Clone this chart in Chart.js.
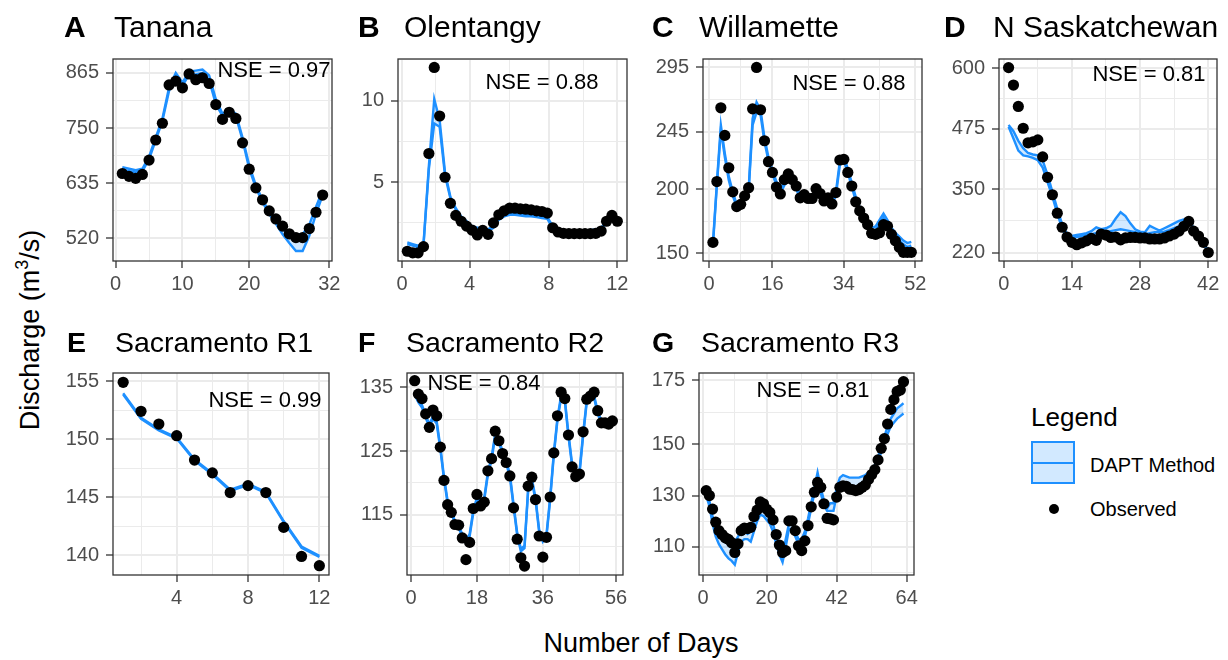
<!DOCTYPE html>
<html>
<head>
<meta charset="utf-8">
<script src="https://cdn.jsdelivr.net/npm/chart.js@4.4.1/dist/chart.umd.min.js"></script>
<style>
html, body { margin: 0; padding: 0; background: #fff; }
body { width: 1228px; height: 660px; position: relative; overflow: hidden;
       font-family: "Liberation Sans", Arial, Helvetica, sans-serif; color: #000; }
.panel { position: absolute; }
.tag { position: absolute; font-weight: bold; line-height: 1; white-space: nowrap; }
.name { position: absolute; line-height: 1; white-space: nowrap; }
.nse { position: absolute; font-size: 22px; line-height: 1; white-space: nowrap; transform: translate(-50%, -50%); }
.axt { position: absolute; font-size: 27px; line-height: 1; white-space: nowrap; transform: translate(-50%, -50%); }
.axt.rot { transform: translate(-50%, -50%) rotate(-90deg); }
.axt sup { font-size: 18px; vertical-align: 11px; line-height: 0; }
.lg { position: absolute; line-height: 1; white-space: nowrap; }
</style>
</head>
<body>
<div id="root"></div>
<script>
// ---- data ----

// A Tanana, daily
const tananaObs = [655, 649, 645, 653, 683, 725, 760, 840, 848, 834, 863, 851, 855, 843, 799, 768, 783, 770, 719, 664, 625, 600, 577, 560, 545, 529, 521, 521, 540, 574, 610];
const tananaHi  = [668, 665, 662, 665, 690, 730, 770, 835, 865, 845, 868, 870, 872, 860, 810, 780, 790, 780, 730, 672, 630, 600, 575, 555, 538, 530, 528, 528, 548, 585, 620];
const tananaLo  = [662, 660, 657, 660, 685, 725, 765, 828, 860, 838, 862, 862, 865, 850, 800, 775, 785, 775, 725, 665, 625, 595, 570, 550, 528, 510, 493, 493, 525, 570, 610];

// B Olentangy, 0.3 day steps
const olentangyObs = [0.76, 0.66, 0.66, 1.04, 6.76, 12.04, 9.06, 5.30, 3.70, 2.96, 2.60, 2.30, 2.06, 1.76, 2.04, 1.80, 2.50, 3.00, 3.24, 3.40, 3.40, 3.36, 3.34, 3.30, 3.24, 3.20, 3.10, 2.20, 1.94, 1.86, 1.84, 1.84, 1.84, 1.84, 1.84, 1.86, 2.00, 2.60, 2.96, 2.60];
const olentangyHi  = [1.3, 1.2, 1.1, 1.2, 6.0, 10.1, 8.8, 5.6, 4.1, 3.4, 2.9, 2.6, 2.3, 2.2, 2.1, 2.1, 2.3, 2.8, 3.0, 3.1, 3.1, 3.05, 3.0, 3.0, 2.95, 2.9, 2.85, 2.3, 2.1, 2.05, 2.05, 2.05, 2.05, 2.05, 2.05, 2.1, 2.2, 2.6, 2.95, 2.8];
const olentangyLo  = [1.2, 1.1, 1.0, 1.1, 5.8, 8.6, 8.4, 5.4, 4.0, 3.3, 2.8, 2.5, 2.2, 2.1, 2.0, 2.0, 2.2, 2.7, 2.9, 3.0, 3.0, 2.95, 2.9, 2.9, 2.85, 2.8, 2.75, 2.2, 2.0, 1.95, 1.95, 1.95, 1.95, 1.95, 1.95, 2.0, 2.1, 2.5, 2.85, 2.7];

// C Willamette
const willametteObs = [158.5, 206, 263.5, 242, 216.7, 197.9, 186.4, 188.2, 194.8, 201.2, 262.7, 295, 262, 237.8, 221.5, 213.1, 201.7, 196.3, 207.5, 211.9, 207.5, 202.5, 193.3, 195.8, 192.8, 192.8, 200.4, 196.6, 190.8, 193.3, 188.5, 197.4, 222.8, 223.3, 213.1, 202.5, 190.2, 183.1, 177.5, 172.4, 165.6, 164.8, 166.1, 172.4, 171.2, 164.8, 159.7, 154.6, 150.8, 150.8, 150.8];
const willametteHi  = [158, 205, 250, 228, 210, 198, 188, 188, 194, 200, 255, 268, 262, 240, 225, 215, 206, 200, 206, 210, 207, 203, 196, 196, 194, 194, 198, 197, 193, 194, 191, 198, 222, 225, 216, 205, 194, 186, 180, 175, 170, 171, 176, 181, 176, 170, 166, 163, 160, 158, 159];
const willametteLo  = [156, 203, 246, 225, 207, 195, 186, 186, 192, 198, 250, 260, 258, 237, 222, 212, 203, 197, 203, 207, 204, 200, 193, 193, 191, 191, 195, 194, 190, 191, 188, 195, 219, 222, 213, 202, 191, 183, 177, 172, 167, 168, 173, 178, 173, 167, 163, 160, 157, 155, 156];

// D N Saskatchewan
const saskObs = [601, 565, 521, 476, 446, 448, 452, 417, 375, 339, 301, 272, 252, 241, 236, 240, 244, 249, 245, 258, 256, 251, 252, 246, 250, 251, 251, 250, 250, 248, 248, 248, 250, 254, 258, 264, 274, 284, 264, 254, 241, 220];
const saskHi  = [483, 470, 450, 435, 425, 422, 420, 410, 380, 345, 310, 278, 258, 254, 256, 258, 260, 264, 272, 268, 270, 275, 290, 303, 295, 280, 268, 263, 262, 275, 270, 265, 270, 275, 280, 285, 288, 290, 270, 255, 240, 224];
const saskLo  = [479, 455, 430, 420, 418, 415, 410, 395, 365, 335, 300, 270, 250, 250, 252, 254, 256, 258, 260, 262, 262, 264, 266, 268, 266, 264, 262, 260, 258, 260, 262, 262, 263, 266, 270, 274, 280, 286, 266, 252, 238, 222];

// E Sacramento R1
const sacR1Obs = [154.9, 152.4, 151.3, 150.3, 148.2, 147.1, 145.4, 146.0, 145.4, 142.4, 139.9, 139.1];
const sacR1Hi  = [153.95, 151.85, 150.85, 150.15, 148.25, 147.05, 145.65, 146.15, 145.45, 142.95, 140.75, 139.95];
const sacR1Lo  = [153.85, 151.75, 150.75, 150.05, 148.15, 146.95, 145.55, 146.05, 145.35, 142.85, 140.65, 139.85];

// F Sacramento R2
const sacR2Obs = [136.0, 133.9, 133.2, 130.8, 128.7, 131.4, 130.5, 125.6, 120.4, 116.6, 115.4, 113.5, 113.4, 111.4, 108.0, 110.7, 116.0, 118.2, 116.4, 117.0, 121.9, 123.8, 128.1, 126.6, 124.6, 123.2, 121.1, 116.1, 111.2, 108.3, 107.0, 119.5, 120.9, 117.4, 111.7, 108.4, 111.5, 117.8, 124.7, 130.5, 134.2, 133.2, 127.5, 122.5, 121.0, 121.4, 128.0, 133.1, 133.6, 134.2, 131.3, 129.4, 129.4, 129.2, 129.7];
const sacR2Hi  = [134.2, 133.0, 132.2, 130.6, 129.2, 130.4, 129.7, 125.7, 121.0, 117.2, 115.8, 114.0, 113.4, 112.0, 111.0, 112.0, 115.7, 117.7, 117.2, 117.7, 121.7, 124.0, 127.7, 126.7, 125.0, 123.4, 121.4, 116.7, 112.2, 109.7, 110.2, 119.2, 120.7, 117.7, 112.7, 111.2, 112.0, 117.7, 124.7, 130.2, 133.7, 133.2, 127.7, 123.0, 121.4, 121.7, 127.7, 133.0, 133.4, 133.7, 131.2, 129.7, 129.5, 129.5, 129.7];
const sacR2Lo  = [133.8, 132.6, 131.8, 130.2, 128.8, 130.0, 129.3, 125.3, 120.6, 116.8, 115.4, 113.6, 113.0, 111.6, 110.6, 111.6, 115.3, 117.3, 116.8, 117.3, 121.3, 123.6, 127.3, 126.3, 124.6, 123.0, 121.0, 116.3, 111.8, 109.3, 109.8, 118.8, 120.3, 117.3, 112.3, 110.8, 111.6, 117.3, 124.3, 129.8, 133.3, 132.8, 127.3, 122.6, 121.0, 121.3, 127.3, 132.6, 133.0, 133.3, 130.8, 129.3, 129.1, 129.1, 129.3];

// G Sacramento R3
const sacR3Obs = [131.9, 130.0, 124.7, 119.6, 116.3, 114.8, 113.5, 112.9, 111.6, 107.8, 111.2, 116.3, 117.3, 117.1, 117.6, 121.8, 124.3, 127.5, 126.8, 124.7, 123.4, 120.5, 114.8, 110.7, 107.8, 108.5, 120.1, 120.1, 116.3, 110.4, 108.5, 112.3, 118.3, 125.6, 131.3, 135.1, 133.2, 126.8, 121.1, 120.9, 120.5, 129.4, 133.2, 133.8, 133.6, 132.5, 132.3, 131.9, 132.3, 133.2, 134.1, 136.3, 138.2, 140.1, 143.9, 148.4, 152.2, 157.9, 163.6, 167.4, 170.6, 171.2, 174.4];
const sacR3Hi  = [131, 128, 122, 118, 115, 114, 113.5, 113, 112.5, 112, 114, 116, 116, 115, 116, 120, 123, 125, 124, 122.5, 121, 119, 114, 110, 107, 113, 119, 119, 116, 113, 113, 116, 121, 127, 133, 139, 133, 128, 125, 127, 127, 133, 137, 138, 137.5, 137, 137, 137, 137, 137.5, 138, 139, 140, 142, 145, 149, 153, 157, 160, 162, 164, 165, 166];
const sacR3Lo  = [130, 126, 119, 114, 111, 109, 107, 105.5, 104.5, 103, 108, 112, 113, 113, 112, 116, 120, 122.5, 122, 120.5, 119, 116, 111, 107, 104, 110, 117, 117, 114, 111, 111, 114, 119, 125, 131, 136.5, 131, 126, 124, 124, 124, 130, 133, 134, 134, 133, 133, 133, 133.5, 134, 135, 136, 137.5, 140, 143, 147, 151, 154, 157, 158.5, 160, 161, 162];

// axis breaks and labels
const tananaXBreaks = [0, 10, 20, 32],        tananaXMinor = [5, 15, 26];
const tananaYBreaks = [520, 635, 750, 865],   tananaYMinor = [577.5, 692.5, 807.5];
const olentangyXBreaks = [0, 3.77, 8.18, 12], olentangyXLabels = ['0', '4', '8', '12'], olentangyXMinor = [1.885, 5.975, 10.09];
const olentangyYBreaks = [5, 10],             olentangyYMinor = [2.5, 7.5, 12.5];
const willametteXBreaks = [0, 16, 34, 52],    willametteXMinor = [8, 25, 43];
const willametteYBreaks = [150, 200, 245, 295], willametteYMinor = [175, 222.5, 270];
const saskXBreaks = [0, 14, 28, 42],          saskXMinor = [7, 21, 35];
const saskYBreaks = [220, 350, 475, 600],     saskYMinor = [285, 412.5, 537.5];
const sacR1XBreaks = [4, 8, 12],              sacR1XMinor = [2, 6, 10];
const sacR1YBreaks = [140, 145, 150, 155],    sacR1YMinor = [142.5, 147.5, 152.5];
const sacR2XBreaks = [0, 18, 36, 56],         sacR2XMinor = [9, 27, 46];
const sacR2YBreaks = [115, 125, 135],         sacR2YMinor = [110, 120, 130];
const sacR3XBreaks = [0, 20, 42, 64],         sacR3XMinor = [10, 31, 53];
const sacR3YBreaks = [110, 130, 150, 175],    sacR3YMinor = [100, 120, 140, 162.5];

const str = a => a.map(String);
function dayIndex(n, step) { return Array.from({ length: n }, (_, i) => +((i + 1) * step).toFixed(2)); }
function pts(xs, ys) { return xs.map((x, i) => ({ x: x, y: ys[i] })); }

// panel layout: plot box [left, right, top, bottom] in page px, axis limits
const panels = [
  { tag: 'A', name: 'Tanana', nse: '0.97', nsePos: [274, 70], box: [113, 332, 54, 261], xLim: [-0.4, 32.4], yLim: [472.2, 894.2],
    days: dayIndex(31, 1), obs: tananaObs, hi: tananaHi, lo: tananaLo,
    xb: tananaXBreaks, xl: str(tananaXBreaks), xm: tananaXMinor, yb: tananaYBreaks, yl: str(tananaYBreaks), ym: tananaYMinor,
    tagX: 64, nameX: 114 },
  { tag: 'B', name: 'Olentangy', nse: '0.88', nsePos: [542, 82], box: [398, 627, 54, 261], xLim: [-0.22, 12.54], yLim: [0.16, 12.56],
    days: dayIndex(40, 0.3), obs: olentangyObs, hi: olentangyHi, lo: olentangyLo,
    xb: olentangyXBreaks, xl: olentangyXLabels, xm: olentangyXMinor, yb: olentangyYBreaks, yl: str(olentangyYBreaks), ym: olentangyYMinor,
    tagX: 358, nameX: 404 },
  { tag: 'C', name: 'Willamette', nse: '0.88', nsePos: [849, 83], box: [703, 922, 54, 261], xLim: [-1.5, 53.7], yLim: [144, 301.6],
    days: dayIndex(51, 1), obs: willametteObs, hi: willametteHi, lo: willametteLo,
    xb: willametteXBreaks, xl: str(willametteXBreaks), xm: willametteXMinor, yb: willametteYBreaks, yl: str(willametteYBreaks), ym: willametteYMinor,
    tagX: 652, nameX: 699 },
  { tag: 'D', name: 'N Saskatchewan', nse: '0.81', nsePos: [1149, 74], box: [999, 1217, 54, 261], xLim: [-0.97, 43.8], yLim: [202.5, 618.7],
    days: dayIndex(42, 1), obs: saskObs, hi: saskHi, lo: saskLo,
    xb: saskXBreaks, xl: str(saskXBreaks), xm: saskXMinor, yb: saskYBreaks, yl: str(saskYBreaks), ym: saskYMinor,
    tagX: 944, nameX: 993 },
  { tag: 'E', name: 'Sacramento R1', nse: '0.99', nsePos: [265, 400], box: [113, 329, 368, 575], xLim: [0.43, 12.54], yLim: [138.3, 155.7],
    days: dayIndex(12, 1), obs: sacR1Obs, hi: sacR1Hi, lo: sacR1Lo,
    xb: sacR1XBreaks, xl: str(sacR1XBreaks), xm: sacR1XMinor, yb: sacR1YBreaks, yl: str(sacR1YBreaks), ym: sacR1YMinor,
    tagX: 67, nameX: 115 },
  { tag: 'F', name: 'Sacramento R2', nse: '0.84', nsePos: [484, 383], box: [407, 623, 368, 575], xLim: [-1.1, 57.9], yLim: [105.6, 137.2],
    days: dayIndex(55, 1), obs: sacR2Obs, hi: sacR2Hi, lo: sacR2Lo,
    xb: sacR2XBreaks, xl: str(sacR2XBreaks), xm: sacR2XMinor, yb: sacR2YBreaks, yl: str(sacR2YBreaks), ym: sacR2YMinor,
    tagX: 358, nameX: 406 },
  { tag: 'G', name: 'Sacramento R3', nse: '0.81', nsePos: [813, 390], box: [699, 914, 368, 575], xLim: [-1.26, 66.3], yLim: [99, 177.8],
    days: dayIndex(63, 1), obs: sacR3Obs, hi: sacR3Hi, lo: sacR3Lo,
    xb: sacR3XBreaks, xl: str(sacR3XBreaks), xm: sacR3XMinor, yb: sacR3YBreaks, yl: str(sacR3YBreaks), ym: sacR3YMinor,
    tagX: 652, nameX: 701 }
];

const BLUE = '#1E90FF';
const Y_W = 60, X_H = 40, PAD_T = 14, PAD_R = 16;
Chart.defaults.font.family = '"Liberation Sans", Arial, Helvetica, sans-serif';

// ggplot-like panel border on top of the data
const panelBorder = {
  id: 'panelBorder',
  afterDatasetsDraw(chart) {
    const a = chart.chartArea, c = chart.ctx;
    c.save();
    c.strokeStyle = '#333333';
    c.lineWidth = 1.3;
    c.strokeRect(a.left, a.top, a.right - a.left, a.bottom - a.top);
    c.restore();
  }
};

function axis(lim, breaks, labels, minor, isX) {
  return {
    type: 'linear', min: lim[0], max: lim[1],
    afterBuildTicks: ax => {
      ax.ticks = breaks.map(v => ({ value: v }))
        .concat(minor.map(v => ({ value: v, minorTick: true })))
        .sort((a, b) => a.value - b.value);
    },
    afterFit: ax => { if (isX) ax.height = X_H; else ax.width = Y_W; },
    border: { display: false },
    grid: {
      color: '#EBEBEB',
      lineWidth: c => (c.tick && c.tick.minorTick) ? 1 : 2,
      drawTicks: true, tickLength: 7, tickWidth: 1.3,
      tickColor: c => (c.tick && c.tick.minorTick) ? 'rgba(0,0,0,0)' : '#333333'
    },
    ticks: {
      autoSkip: false, maxRotation: 0, minRotation: 0, padding: isX ? 4 : 7,
      color: '#4D4D4D', font: { size: 20 },
      callback: (v, i, ticks) => ticks[i].minorTick ? '' : labels[breaks.indexOf(v)]
    }
  };
}

const root = document.getElementById('root');

function addDiv(cls, html, left, top) {
  const d = document.createElement('div');
  d.className = cls;
  d.innerHTML = html;
  d.style.left = left + 'px';
  d.style.top = top + 'px';
  root.appendChild(d);
  return d;
}

panels.forEach((p, k) => {
  const [l, r, t, b] = p.box;
  const L = l - Y_W, T = t - PAD_T;
  const W = (r - l) + Y_W + PAD_R, H = (b - t) + PAD_T + X_H;

  const wrap = document.createElement('div');
  wrap.className = 'panel';
  wrap.style.left = L + 'px';
  wrap.style.top = T + 'px';
  wrap.style.width = W + 'px';
  wrap.style.height = H + 'px';
  const cv = document.createElement('canvas');
  cv.width = W; cv.height = H;
  cv.style.width = W + 'px'; cv.style.height = H + 'px';
  wrap.appendChild(cv);
  root.appendChild(wrap);

  new Chart(cv, {
    type: 'line',
    data: {
      datasets: [
        { label: 'Observed', data: pts(p.days, p.obs), showLine: false, pointRadius: 5.6, pointHoverRadius: 5.6,
          pointBackgroundColor: '#000', pointBorderWidth: 0, clip: false },
        { label: 'DAPT low', data: pts(p.days, p.lo), borderColor: BLUE, borderWidth: 2.4, pointRadius: 0, fill: false, tension: 0 },
        { label: 'DAPT high', data: pts(p.days, p.hi), borderColor: BLUE, borderWidth: 2.4, pointRadius: 0,
          fill: '-1', backgroundColor: 'rgba(30,144,255,0.2)', tension: 0 }
      ]
    },
    options: {
      responsive: false,
      animation: false,
      events: [],
      layout: { padding: { top: PAD_T, right: PAD_R, left: 0, bottom: 0 } },
      plugins: { legend: { display: false }, tooltip: { enabled: false }, title: { display: false } },
      scales: {
        x: axis(p.xLim, p.xb, p.xl, p.xm, true),
        y: axis(p.yLim, p.yb, p.yl, p.ym, false)
      }
    },
    plugins: [panelBorder]
  });

  // panel tag, river name, NSE note (top row titles set a little larger)
  const size = k < 4 ? 30 : 28.5;
  const baseline = k < 4 ? t - 17 : t - 15.5;
  const titleTop = baseline - 0.8465 * size;
  addDiv('tag', p.tag, p.tagX, titleTop).style.fontSize = size + 'px';
  addDiv('name', p.name, p.nameX, titleTop).style.fontSize = size + 'px';
  addDiv('nse', 'NSE = ' + p.nse, p.nsePos[0], p.nsePos[1]);
});

// shared axis titles
addDiv('axt', 'Number of Days', 641, 643);
addDiv('axt rot', 'Discharge (m<sup>3</sup>/s)', 30, 330);

// legend
addDiv('lg', 'Legend', 1031, 404).style.fontSize = '26px';
const key = addDiv('lg', '', 1031, 441);
key.style.cssText += 'width:40px;height:39px;border:2px solid ' + BLUE + ';background:rgba(30,144,255,0.2);';
const keyLine = document.createElement('div');
keyLine.style.cssText = 'position:absolute;left:0;right:0;top:18.5px;height:2px;background:' + BLUE + ';';
key.appendChild(keyLine);
addDiv('lg', 'DAPT Method', 1090, 455).style.fontSize = '20px';
const dot = addDiv('lg', '', 1048.5, 503.5);
dot.style.cssText += 'width:10px;height:10px;border-radius:50%;background:#000;';
addDiv('lg', 'Observed', 1090, 498.5).style.fontSize = '20px';
</script>
</body>
</html>
